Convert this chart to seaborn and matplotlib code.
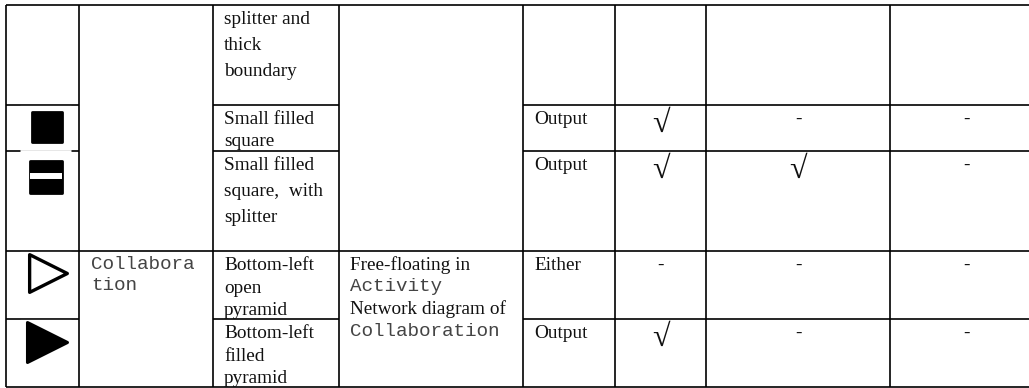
import pandas as pd
import seaborn as sns
import matplotlib.pyplot as plt

# Table content
col_edges = [6, 79, 212.5, 338.5, 523, 615, 706, 890, 1029]
row_edges = [5, 105, 151, 251, 319, 387]

shape_lines = [
    ["splitter and", "thick", "boundary"],
    ["Small filled", "square"],
    ["Small filled", "square,  with", "splitter"],
    ["Bottom-left", "open", "pyramid"],
    ["Bottom-left", "filled", "pyramid"],
]
shape_baselines = [[24, 50, 76], [124, 146], [170, 196, 222], [270, 293, 315], [338, 361, 383]]

concept_lines = ["Collabora", "tion"]
context_lines = ["Free-floating in", "Activity", "Network diagram of", "Collaboration"]
context_mono = [False, True, False, True]

direction = ["", "Output", "Output", "Either", "Output"]
col_a = ["", "√", "√", "-", "√"]
col_b = ["", "-", "√", "-", "-"]
col_c = ["", "-", "-", "-", "-"]

icon_names = ["square", "split square", "open pyramid", "filled pyramid"]

SERIF = ["Liberation Serif", "DejaVu Serif"]
MONO = "Liberation Mono"
FS = 13.9
LW = 1.2

sns.set_theme(style="white")
fig = plt.figure(figsize=(10.29, 3.88), dpi=100)
ax = fig.add_axes([0, 0, 1, 1])
ax.axis("off")

# Grid lines, merged cells have no line
top, bottom = row_edges[0], row_edges[-1]
ax.hlines([top, row_edges[3], bottom], col_edges[0], col_edges[-1], color="black", lw=LW)
for y in row_edges[1], row_edges[2], row_edges[4]:
    ax.hlines(y, col_edges[0], col_edges[1], color="black", lw=LW)
    ax.hlines(y, col_edges[2], col_edges[3], color="black", lw=LW)
    ax.hlines(y, col_edges[4], col_edges[-1], color="black", lw=LW)
ax.vlines(col_edges[:-1], top, bottom, color="black", lw=LW)

# The pasted icons cover part of the rules
ax.hlines(row_edges[2], 20, 71, color="white", lw=2)
for y in row_edges[1], row_edges[3], row_edges[4]:
    ax.hlines(y + 0.7, 20, 71, color="white", lw=0.8)

# Icons
icons = pd.DataFrame({
    "x": [46.5, 46, 47.5, 46.5],
    "y": [127, 177, 273, 341.5],
    "name": icon_names,
})
sns.scatterplot(data=icons.iloc[[0]], x="x", y="y", marker="s", s=475,
                color="black", edgecolor="black", linewidth=2, legend=False, ax=ax)
sns.scatterplot(data=icons.iloc[[1]], x="x", y="y", marker="s", s=520,
                color="black", edgecolor="black", linewidth=2, legend=False, ax=ax)
sns.scatterplot(data=icons.iloc[[2]], x="x", y="y", marker=">", s=738,
                facecolor="white", edgecolor="black", linewidth=2.4, legend=False, ax=ax)
sns.scatterplot(data=icons.iloc[[3]], x="x", y="y", marker=">", s=830,
                color="black", edgecolor="black", linewidth=2.2, legend=False, ax=ax)
for coll in ax.collections:
    if hasattr(coll, "get_sizes"):
        coll.set_joinstyle("round")
ax.hlines(176.3, 30, 62, color="white", lw=4.3, zorder=5)

ax.set_xlim(0, 1029)
ax.set_ylim(388, 0)
ax.set_xlabel("")
ax.set_ylabel("")

# Text
for lines, bases in zip(shape_lines, shape_baselines):
    for line, y in zip(lines, bases):
        ax.text(224, y, line, family=SERIF, fontsize=FS, color="#111111", va="baseline")

for line, y in zip(concept_lines, [269, 290]):
    ax.text(91, y, line, family=MONO, fontsize=FS, color="#444444", va="baseline")

for line, mono, y in zip(context_lines, context_mono, [270, 291, 314, 336]):
    ax.text(350, y, line, family=MONO if mono else SERIF, fontsize=FS,
            color="#444444" if mono else "#111111", va="baseline")

row_base = [None, 124, 170, 270, 338]
for i in range(1, 5):
    ax.text(534, row_base[i], direction[i], family=SERIF, fontsize=FS, color="#111111", va="baseline")
    for val, xc in zip([col_a[i], col_b[i], col_c[i]], [661, 798, 966]):
        if val == "√":
            ax.text(xc, row_base[i] + 8, val, family=SERIF, fontsize=23,
                    color="#111111", ha="center", va="baseline")
        else:
            ax.text(xc, row_base[i], val, family=SERIF, fontsize=FS,
                    color="#111111", ha="center", va="baseline")

fig.savefig("out.png", dpi=100)
